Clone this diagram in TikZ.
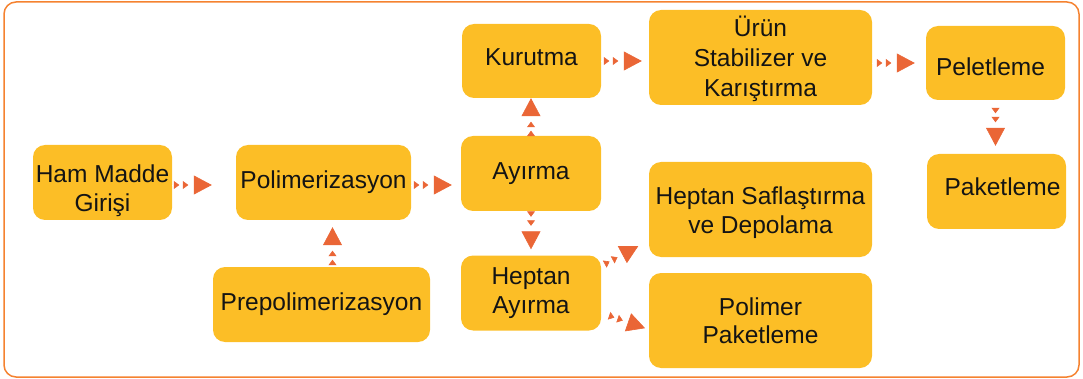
\documentclass[tikz,border=0pt]{standalone}
\usepackage{fontspec}
\setmainfont{Liberation Sans}
\usetikzlibrary{arrows.meta}
\definecolor{boxyellow}{RGB}{252,190,38}
\definecolor{flowred}{RGB}{234,102,54}
\definecolor{frameorange}{RGB}{245,130,48}
\definecolor{textblack}{RGB}{20,20,20}

\begin{document}
\begin{tikzpicture}[x=1pt, y=-1pt,
  stepbox/.style={fill=boxyellow, rounded corners=12pt, inner sep=0pt, align=center, text=textblack, font=\fontsize{24.5}{28.5}\selectfont},
  flow/.style={draw=white, line width=0.6pt, -{Triangle[length=5.5pt,width=8pt,sep=3.5pt,color=flowred] Triangle[length=5.5pt,width=8pt,sep=5.5pt,color=flowred] Triangle[length=18pt,width=19pt,color=flowred]}}]
  \useasboundingbox (0,0) rectangle (1083,379);
  \node[draw=frameorange, line width=1.5pt, rounded corners=12pt, minimum width=1075pt, minimum height=375pt, inner sep=0pt] (frame) at (541.5,189.5) {};
  % left column
  \node[stepbox, minimum width=139pt, minimum height=75pt] (ham) at (102.5,182.5) {\rule{0pt}{34pt}Ham Madde\\Girişi};
  \node[stepbox, minimum width=175pt, minimum height=75pt] (poly) at (323.5,182.5) {Polimerizasyon};
  \node[stepbox, minimum width=217pt, minimum height=75pt] (prep) at (321.5,304.5) {Prepolimerizasyon};
  % middle column
  \node[stepbox, minimum width=139pt, minimum height=74pt, text height=18pt, text depth=8pt] (kur) at (531.5,61) {Kurutma};
  \node[stepbox, minimum width=140pt, minimum height=75pt] (ayr) at (531,173.5) {Ayırma};
  \node[stepbox, minimum width=140pt, minimum height=75pt] (hept) at (531,293) {Heptan\\Ayırma};
  \node[stepbox, minimum width=223pt, minimum height=95pt, font=\fontsize{24.5}{30}\selectfont] (urun) at (760.5,57.5) {\rule{0pt}{23pt}Ürün\\Stabilizer ve\\Karıştırma};
  \node[stepbox, minimum width=223pt, minimum height=95pt] (saf) at (760.5,209.5) {\rule{0pt}{24pt}Heptan Saflaştırma\\ve Depolama};
  \node[stepbox, minimum width=223pt, minimum height=95pt] (pmp) at (760.5,320.5) {Polimer\\Paketleme};
  % right column
  \node[stepbox, minimum width=139pt, minimum height=74pt, text height=26pt, text depth=0pt] (pel) at (995.5,63) {Peletleme\hspace*{10pt}};
  \node[stepbox, minimum width=139pt, minimum height=75pt, text height=18pt, text depth=10pt] (pak) at (996.5,191.5) {\hspace*{12pt}Paketleme};
  % flows
  \draw[flow, shorten >=24pt] ([yshift=-2.5pt]ham.east) -- ([yshift=-2.5pt]poly.west);
  \draw[flow, shorten >=9pt] ([yshift=-2.5pt]poly.east) -- ([yshift=-2.5pt]poly.east -| ayr.west);
  \draw[flow] (ayr.north) -- (ayr.north |- kur.south);
  \draw[flow, shorten >=6pt] (ayr.south) -- (ayr.south |- hept.north);
  \draw[flow, shorten >=7pt] ([xshift=11pt]prep.north) -- ([xshift=11pt]prep.north |- poly.south);
  \draw[flow, shorten >=7pt] (kur.east) -- (kur.east -| urun.west);
  \draw[flow, shorten >=11pt] (pel.west -| urun.east) -- (pel.west);
  \draw[flow, shorten <=5pt, shorten >=8pt] (pel.south) -- (pel.south |- pak.north);
  \draw[flow, shorten >=12pt] ([yshift=27pt]hept.east) -- ([yshift=-31pt]saf.west);
  \draw[flow, shorten >=4pt] ([yshift=-20pt]hept.east) -- ([yshift=-9pt]pmp.west);
\end{tikzpicture}
\end{document}
